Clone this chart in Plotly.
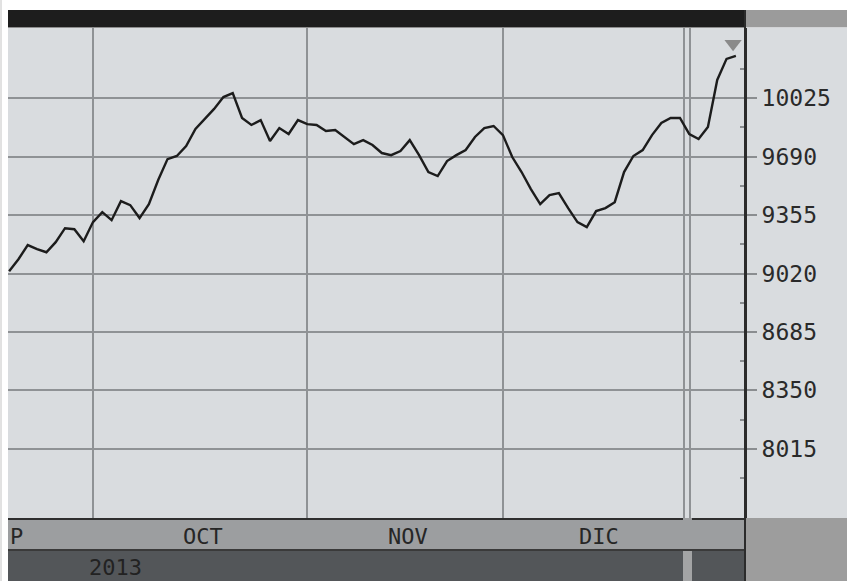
import pandas as pd
import plotly.graph_objects as go

# ---- data (IBEX-like index, daily closes) ----
start_date = "2013-09-18"
end_date = "2014-01-09"
holidays = ["2013-12-25", "2013-12-26", "2014-01-01"]

values = [
    9033, 9102, 9183, 9160, 9142, 9200, 9280, 9274, 9205,            # Sep
    9315, 9372, 9326, 9435, 9412, 9338, 9418, 9556, 9676, 9694,      # Oct
    9751, 9849, 9906, 9964, 10032, 10055, 9912, 9872, 9900, 9780,
    9854, 9820, 9900,
    9877, 9872, 9837, 9843, 9803, 9762, 9785, 9757, 9711, 9699,      # Nov
    9722, 9785, 9699, 9602, 9579, 9665, 9699, 9728, 9803, 9854,
    9866,
    9814, 9688, 9602, 9504, 9418, 9470, 9481, 9395, 9315, 9286,      # Dec
    9378, 9395, 9429, 9602, 9694, 9728, 9814, 9883, 9912, 9912,
    9820, 9791, 9860, 10130, 10251, 10268,                           # Jan
]

month_names = {9: "SEP", 10: "OCT", 11: "NOV", 12: "DIC", 1: "ENE"}
y_ticks = [8015, 8350, 8685, 9020, 9355, 9690, 10025]
y_tick_text = [str(v) for v in y_ticks]
year_label = "2013"

dates = [d for d in pd.bdate_range(start_date, end_date)
         if d.strftime("%Y-%m-%d") not in holidays]
idx = list(range(len(values)))

# month boundaries (index of first session of each month)
month_starts = [i for i in range(1, len(dates)) if dates[i].month != dates[i - 1].month]
year_start = [i for i in month_starts if dates[i].month == 1][0]
month_bounds = [m for m in month_starts if m != year_start]

# ---- styling ----
W, H = 847, 581
ML, MR, MT, MB = 8, 102, 28, 63
PW, PH = W - ML - MR, H - MT - MB
PLOT_BG = "#d9dcdf"
GRID = "#8f9295"
FONT = "DejaVu Sans Mono"


def px(x):
    return (x - ML) / PW


def py(y):
    return (H - MB - y) / PH


fig = go.Figure()
fig.add_trace(go.Scatter(
    x=idx, y=values, mode="lines",
    line=dict(color="#1c1c1c", width=2.4),
    hoverinfo="skip", showlegend=False,
))
# current-level marker above the last session
fig.add_trace(go.Scatter(
    x=[idx[-1] - 0.3], y=[max(values) + 70], mode="markers",
    marker=dict(symbol="triangle-down", size=15, color="#8a8a8a"),
    cliponaxis=False, hoverinfo="skip", showlegend=False,
))

shapes = []
def rect(x0, y0, x1, y1, color):
    shapes.append(dict(type="rect", xref="paper", yref="paper",
                       x0=px(x0), x1=px(x1), y0=py(y1), y1=py(y0),
                       fillcolor=color, line=dict(width=0), layer="below"))

def hline(x0, x1, y, color, w):
    shapes.append(dict(type="line", xref="paper", yref="paper",
                       x0=px(x0), x1=px(x1), y0=py(y), y1=py(y),
                       line=dict(color=color, width=w)))

# top bar
rect(ML, 10, 745, 27.5, "#1d1d1d")
rect(745, 10, W, 27.5, "#9b9b9b")
# right label area
rect(745, 27.5, W, 518, PLOT_BG)
# month band
rect(ML, 518, 745, 550, "#9c9ea0")
# year band
rect(ML, 550, 745, H, "#535659")
rect(683, 550, 692, H, "#a3a4a5")
# bottom right block
rect(745, 518, W, H, "#9d9d9d")
# thin left border
shapes.append(dict(type="line", xref="paper", yref="paper",
                   x0=px(1), x1=px(1), y0=py(H), y1=py(0),
                   line=dict(color="#c4c4c4", width=1)))
# band borders
hline(ML, 683, 519, "#2e2e2e", 2)
hline(692, 745, 519, "#2e2e2e", 2)
hline(ML, 745, 550, "#3a3a3a", 2)
# axis line extended through bars
shapes.append(dict(type="line", xref="paper", yref="paper",
                   x0=1, x1=1, y0=py(H), y1=py(10),
                   line=dict(color="#2b2b2b", width=2)))

annotations = []
groups = {}
for i, d in enumerate(dates):
    groups.setdefault((d.year, d.month), []).append(i)
for (yy, mm), ids in groups.items():
    if mm in (10, 11, 12):
        annotations.append(dict(
            x=(ids[0] + ids[-1]) / 2 + 0.8, y=py(536), xref="x", yref="paper",
            text=month_names[mm], showarrow=False,
            font=dict(family=FONT, size=22, color="#262626"),
            xanchor="center", yanchor="middle"))
# cut-off September label
annotations.append(dict(x=px(8), y=py(536), xref="paper", yref="paper",
                        text=month_names[9][-1], showarrow=False,
                        font=dict(family=FONT, size=22, color="#262626"),
                        xanchor="left", yanchor="middle"))
annotations.append(dict(x=px(115), y=py(567), xref="paper", yref="paper",
                        text=year_label, showarrow=False,
                        font=dict(family=FONT, size=22, color="#222222"),
                        xanchor="center", yanchor="middle"))

grid_x = month_bounds + [year_start - 0.57, year_start + 0.07]

fig.update_layout(
    width=W, height=H,
    margin=dict(l=ML, r=MR, t=MT, b=MB, pad=0),
    paper_bgcolor="white",
    plot_bgcolor=PLOT_BG,
    shapes=shapes,
    annotations=annotations,
    hovermode=False,
    xaxis=dict(
        range=[-0.12, 78.98], tickvals=grid_x, showticklabels=False,
        ticks="", showgrid=True, gridcolor=GRID, gridwidth=2,
        zeroline=False, showline=False, fixedrange=True,
    ),
    yaxis=dict(
        side="right", range=[7618, 10428],
        tickvals=y_ticks, ticktext=y_tick_text,
        ticks="outside", ticklen=10, tickwidth=2, tickcolor="#8a8d90",
        showgrid=True, gridcolor=GRID, gridwidth=2,
        showline=True, linecolor="#2b2b2b", linewidth=2,
        zeroline=False, fixedrange=True,
        tickfont=dict(family=FONT, size=23, color="#2a2a2a"),
        minor=dict(ticks="inside", ticklen=5, tickwidth=2, tickcolor="#8a8d90",
                   tick0=y_ticks[0] - 167.5, dtick=335, showgrid=False),
    ),
)

fig.write_html(
    "out.html",
    config={"displayModeBar": False, "staticPlot": True},
    post_script="document.body.style.margin='0';document.body.style.overflow='hidden';",
)
